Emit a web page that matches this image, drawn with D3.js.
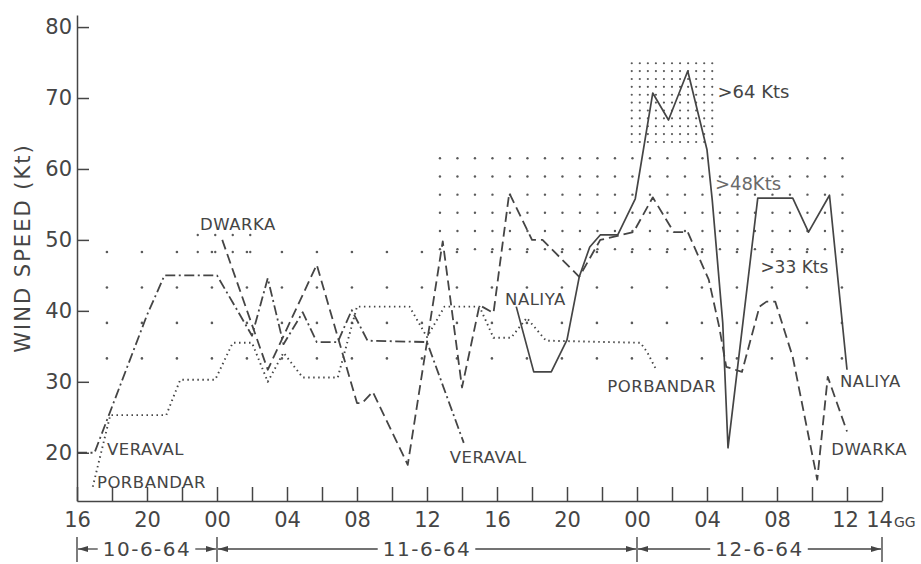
<!DOCTYPE html>
<html>
<head>
<meta charset="utf-8">
<script src="https://cdn.jsdelivr.net/npm/d3@7"></script>
<style>
  html, body { margin: 0; padding: 0; background: #fff; }
  svg { display: block; font-family: "DejaVu Sans", sans-serif; }
</style>
</head>
<body>
<div id="chart"></div>
<script>
// time is counted in hours from 16 GG on 10-6-64
const veravalHours = [0, 1, 4, 5, 8, 10, 10.9, 11.8, 12.9, 13.7, 14.9, 15.7, 16.6, 20, 22.1];
const veravalKt    = [20, 20, 39.4, 45, 45, 36.5, 44.6, 35.3, 39.8, 35.6, 35.6, 40.1, 35.8, 35.6, 21.4];

const dwarkaHours = [8.3, 10.9, 13.7, 16, 16.3, 16.9, 18.9, 20.9, 22, 23, 23.8, 24.7, 26, 26.6, 28.7, 29.9,
                     31.8, 32.9, 34.1, 34.9, 36.1, 36.7, 37.1, 38, 39, 39.4, 39.9, 40.9, 42.3, 42.9, 44];
const dwarkaKt    = [50, 31.7, 46.5, 27, 27, 28.6, 18.3, 49.8, 29.2, 40.8, 39.7, 56.6, 50, 50, 44.8, 50,
                     51.1, 56, 51.1, 51.1, 44.4, 37.7, 32.1, 31.4, 40.6, 41.3, 41.3, 33.5, 16.2, 30.7, 23];

const naliyaHours = [25.1, 26.1, 27.1, 28, 28.7, 29.3, 29.9, 30.9, 31.9, 32.9, 33.8, 34.9, 36, 36.3, 36.9,
                     37.2, 38.9, 40.9, 41.8, 43, 44];
const naliyaKt    = [40.6, 31.4, 31.4, 35.9, 44.8, 49, 50.7, 50.7, 55.8, 70.7, 66.9, 73.8, 62.7, 55.6, 38.3,
                     20.7, 55.9, 55.9, 51.1, 56.3, 31.7];

const porbandarHours = [0.9, 1.9, 5.1, 5.9, 7.9, 8.9, 10, 10.9, 11.8, 12.3, 12.9, 14.9, 16, 19, 20, 21,
                        23, 23.8, 24.8, 25.7, 26.8, 32.2, 32.6, 33.1];
const porbandarKt    = [15.2, 25.3, 25.3, 30.3, 30.3, 35.5, 35.5, 30, 34.1, 32.5, 30.6, 30.6, 40.6, 40.6, 36.3, 40.6,
                        40.6, 36.2, 36.2, 39, 35.8, 35.5, 34.1, 31.7];

// stippled zones: [from hour, to hour, from Kt, to Kt]
const zone33  = [1.71, 43.71, 33.3, 48.3];
const zone48a = [6.9, 9.9, 48.3, 50.7];
const zone48  = [20.74, 43.74, 48.7, 61.5];
const zone64  = [31.7, 36.3, 63.8, 76.0];

const yTicks = [20, 30, 40, 50, 60, 70, 80];
const xTickHours = d3.range(0, 47, 2);
const xTickLabels = ['16', '20', '00', '04', '08', '12', '16', '20', '00', '04', '08', '12'];
const dateLabels = ['10-6-64', '11-6-64', '12-6-64'];
const dateBounds = [0, 8, 32, 46];

const ink = '#454545';

const svg = d3.select('#chart').append('svg')
    .attr('width', 921)
    .attr('height', 564);

const x = d3.scaleLinear().domain([0, 46]).range([77, 882]);
const y = d3.scaleLinear().domain([13.2, 81.7]).range([501, 15]);

// stippling
const gridDots = (z, hStep, vStep) => {
    const pts = [];
    for (let h = z[0]; h <= z[1] + 1e-6; h += hStep) {
        for (let v = z[2]; v <= z[3] + 1e-6; v += vStep) pts.push([h, v]);
    }
    return pts;
};

const stipple = [
    { pts: gridDots(zone33, 2, 5), r: 1.3 },
    { pts: gridDots(zone48a, 1, 2.4), r: 1.2 },
    { pts: gridDots(zone48, 1, 2.56), r: 1.2 },
    { pts: gridDots(zone64, 0.46, 1.11), r: 1.1 }
];

stipple.forEach(s => {
    svg.append('g')
        .selectAll('circle')
        .data(s.pts)
        .enter()
        .append('circle')
        .attr('cx', d => x(d[0]))
        .attr('cy', d => y(d[1]))
        .attr('r', s.r)
        .attr('fill', '#5a5a5a');
});

// axes
const xAxis = d3.axisBottom(x)
    .tickValues(xTickHours)
    .tickSizeInner(-14)
    .tickSizeOuter(0)
    .tickPadding(11)
    .tickFormat(h => (h % 4 === 0 && h / 4 < xTickLabels.length) ? xTickLabels[h / 4] : (h === 46 ? '14' : ''));

const gx = svg.append('g')
    .attr('transform', 'translate(0,' + y(13.2) + ')')
    .call(xAxis);

const yAxis = d3.axisLeft(y)
    .tickValues(yTicks)
    .tickSizeInner(-12)
    .tickSizeOuter(0)
    .tickPadding(5);

const gy = svg.append('g')
    .attr('transform', 'translate(' + x(0) + ',0)')
    .call(yAxis);

[gx, gy].forEach(g => {
    g.selectAll('path, line').attr('stroke', ink).attr('stroke-width', 1.5);
    g.selectAll('text')
        .attr('fill', ink)
        .style('font-size', '21px')
        .style('font-family', '"DejaVu Sans", sans-serif');
});
gx.selectAll('.tick text').filter(h => h === 44).attr('dx', -2);
gx.selectAll('.tick text').filter(h => h === 46).attr('dx', -3);

svg.append('text')
    .attr('x', x(46) + 12)
    .attr('y', y(13.2) + 26)
    .attr('fill', ink)
    .style('font-size', '14px')
    .text('GG');

svg.append('text')
    .attr('transform', 'translate(30,' + 248 + ') rotate(-90)')
    .attr('text-anchor', 'middle')
    .attr('fill', ink)
    .style('font-size', '21px')
    .style('letter-spacing', '2px')
    .text('WIND SPEED (Kt)');

// station curves
const line = d3.line().x(d => x(d[0])).y(d => y(d[1]));
const series = [
    { hours: naliyaHours, kt: naliyaKt, dash: null, width: 1.7 },
    { hours: dwarkaHours, kt: dwarkaKt, dash: '10 5', width: 1.8 },
    { hours: veravalHours, kt: veravalKt, dash: '10 3.5 2 3.5', width: 1.8 },
    { hours: porbandarHours, kt: porbandarKt, dash: '1.5 3.5', width: 1.9 }
];

series.forEach(s => {
    svg.append('path')
        .datum(d3.zip(s.hours, s.kt))
        .attr('d', line)
        .attr('fill', 'none')
        .attr('stroke', ink)
        .attr('stroke-width', s.width)
        .attr('stroke-dasharray', s.dash)
        .attr('stroke-linejoin', 'round');
});

// station names
const stationNames = ['DWARKA', 'VERAVAL', 'PORBANDAR', 'NALIYA', 'VERAVAL', 'PORBANDAR', 'NALIYA', 'DWARKA'];
const nameHours = [7.03, 1.71, 1.14, 24.46, 21.3, 30.3, 43.6, 43.1];
const nameKt = [51.4, 19.7, 15.1, 40.8, 18.6, 28.6, 29.2, 19.7];

svg.append('g')
    .selectAll('text')
    .data(stationNames)
    .enter()
    .append('text')
    .attr('x', (d, i) => x(nameHours[i]))
    .attr('y', (d, i) => y(nameKt[i]))
    .attr('fill', ink)
    .style('font-size', '16.5px')
    .style('letter-spacing', '0.5px')
    .text(d => d);

// threshold notes
const noteText = ['>64 Kts', '>48Kts', '>33 Kts'];
const noteHours = [36.6, 36.45, 39.05];
const noteKt = [70, 57, 45.3];
const noteSize = [18, 18, 17];

svg.append('g')
    .selectAll('text')
    .data(noteText)
    .enter()
    .append('text')
    .attr('x', (d, i) => x(noteHours[i]))
    .attr('y', (d, i) => y(noteKt[i]))
    .attr('fill', (d, i) => i === 1 ? '#6a6a6a' : ink)
    .style('font-size', (d, i) => noteSize[i] + 'px')
    .text(d => d);

// date row
svg.append('defs').append('marker')
    .attr('id', 'arrow')
    .attr('markerUnits', 'userSpaceOnUse')
    .attr('markerWidth', 11)
    .attr('markerHeight', 8)
    .attr('refX', 10)
    .attr('refY', 4)
    .attr('orient', 'auto-start-reverse')
    .append('path')
    .attr('d', 'M0,1 L10,4 L0,7 Z')
    .attr('fill', ink);

const dateY = 549;
const dateRow = svg.append('g');

dateRow.selectAll('line.bar')
    .data(dateBounds)
    .enter()
    .append('line')
    .attr('class', 'bar')
    .attr('x1', d => x(d))
    .attr('x2', d => x(d))
    .attr('y1', dateY - 12)
    .attr('y2', dateY + 13)
    .attr('stroke', ink)
    .attr('stroke-width', 1.4);

dateLabels.forEach((lab, i) => {
    const a = dateBounds[i];
    const b = dateBounds[i + 1];
    const t = dateRow.append('text')
        .attr('x', x((a + b) / 2))
        .attr('y', dateY + 7)
        .attr('text-anchor', 'middle')
        .attr('fill', ink)
        .style('font-size', '20px')
        .style('letter-spacing', '1.5px')
        .text(lab);
    const w = t.node().getComputedTextLength();
    const cx = x((a + b) / 2);
    dateRow.append('line')
        .attr('x1', x(a) + 1).attr('x2', cx - w / 2 - 5)
        .attr('y1', dateY).attr('y2', dateY)
        .attr('stroke', ink).attr('stroke-width', 1.3)
        .attr('marker-start', 'url(#arrow)');
    dateRow.append('line')
        .attr('x1', cx + w / 2 + 4).attr('x2', x(b) - 1)
        .attr('y1', dateY).attr('y2', dateY)
        .attr('stroke', ink).attr('stroke-width', 1.3)
        .attr('marker-end', 'url(#arrow)');
});
</script>
</body>
</html>
